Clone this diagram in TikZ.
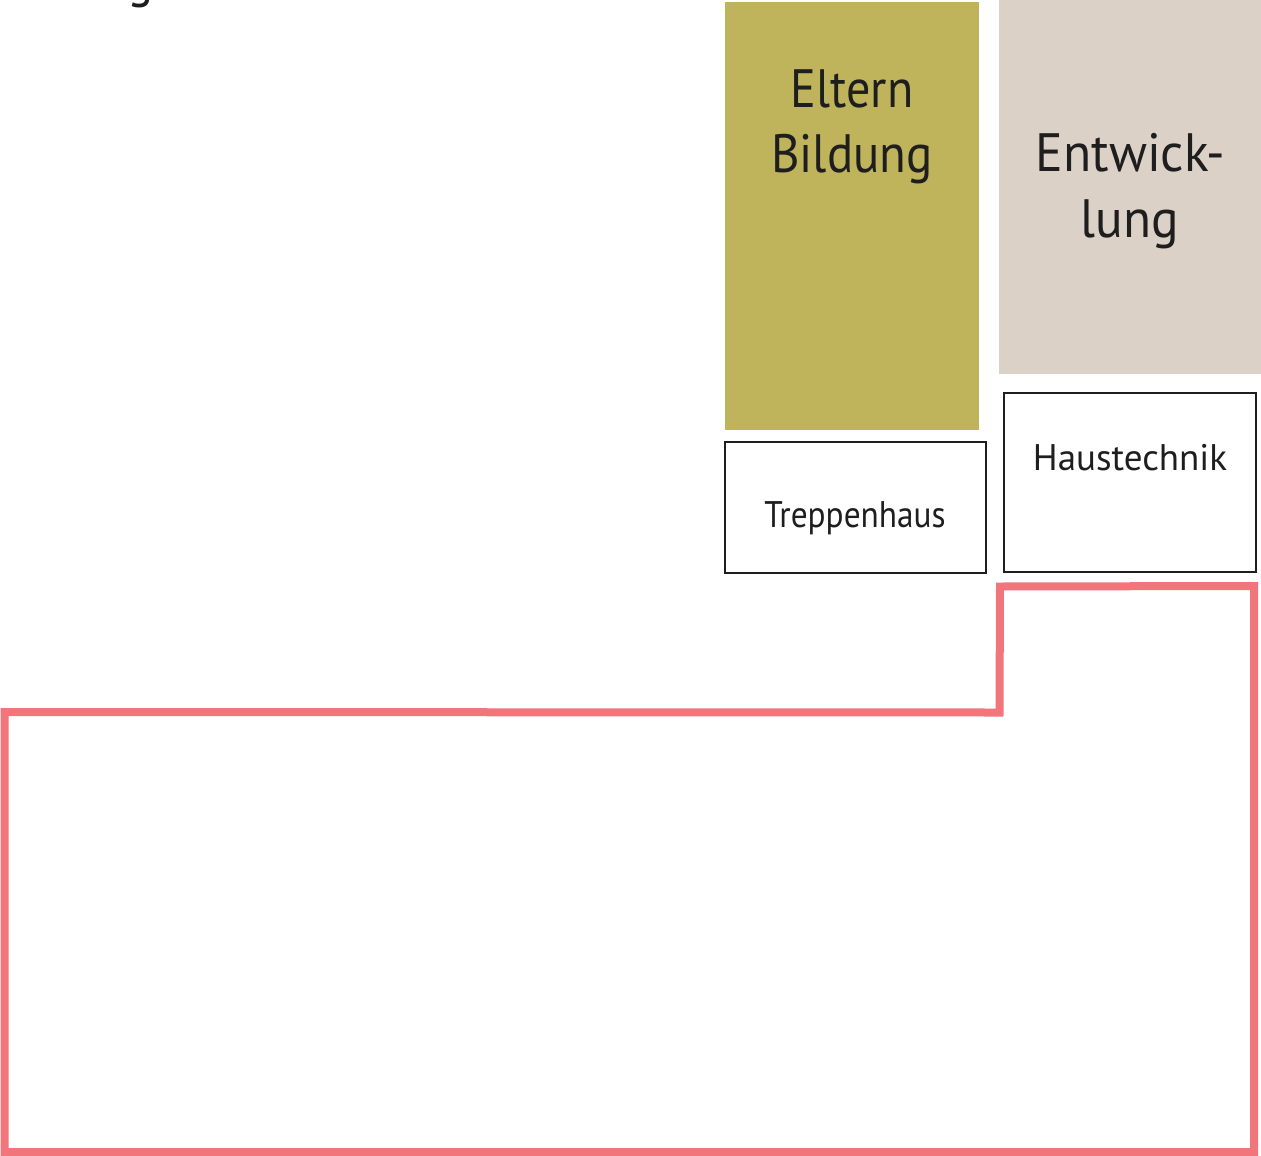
\documentclass[tikz,border=0pt]{standalone}
\usepackage{fontspec}
\setmainfont{PT Sans}
\usepackage{graphicx}
\definecolor{olive}{HTML}{BFB45B}
\definecolor{beige}{HTML}{DBD1C7}
\definecolor{wallred}{HTML}{F1757A}
\definecolor{ink}{HTML}{1E1E1E}
\begin{document}
\begin{tikzpicture}[x=1pt,y=-1pt,
  roombox/.style={draw=ink,line width=2.5pt,fill=white},
  bigtxt/.style={text=ink,font=\fontsize{54}{54}\selectfont,anchor=base,inner sep=0pt},
  smalltxt/.style={text=ink,font=\fontsize{37}{37}\selectfont,anchor=base,inner sep=0pt}]
\useasboundingbox (0,0) rectangle (1261,1156);
\begin{scope}
\clip (0,0) rectangle (1261,1156);
% partial heading glyph
\node[bigtxt] (head) at (141,-3) {\scalebox{0.9}[1]{g}};
% filled rooms
\fill[olive] (725,2) rectangle (979,430);
\fill[beige] (999,-2) rectangle (1263,374);
\node[bigtxt] (eltern) at (852,107) {\scalebox{0.89}[1]{Eltern}};
\node[bigtxt] (bildung) at (852,172) {\scalebox{0.905}[1]{Bildung}};
\node[bigtxt] (entw) at (1130.5,171) {\scalebox{0.955}[1]{Entwick-}};
\node[bigtxt] (lung) at (1130,237) {\scalebox{0.95}[1]{lung}};
% outlined rooms
\draw[roombox] (725,442) rectangle (986,573);
\draw[roombox] (1004,393) rectangle (1256,572);
\node[smalltxt] (trep) at (855,527) {\scalebox{0.9}[1]{Treppenhaus}};
\node[smalltxt] (haus) at (1130,470) {\scalebox{1.0}[1]{Haustechnik}};
% red outline
\draw[wallred,line width=8pt,line join=miter]
  (4.5,712) -- (999.5,712.5) -- (1000,586.5) -- (1254,586) -- (1254,1152) -- (4.5,1152) -- cycle;
\end{scope}
\end{tikzpicture}
\end{document}
